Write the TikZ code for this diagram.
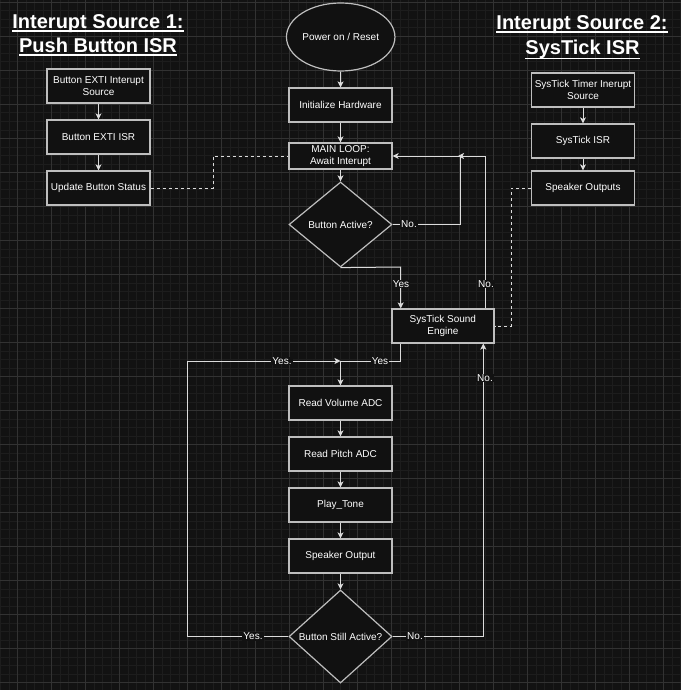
\documentclass[tikz,border=0pt]{standalone}
\usepackage{fontspec}
\setmainfont{Liberation Sans}
\usetikzlibrary{shapes.geometric,arrows.meta}
\definecolor{bg}{RGB}{18,18,18}
\definecolor{gminor}{RGB}{29,29,29}
\definecolor{gmajor}{RGB}{50,50,50}
\definecolor{boxfill}{RGB}{17,17,17}
\definecolor{boxline}{RGB}{190,190,190}
\definecolor{edgec}{RGB}{220,220,220}
\begin{document}
\begin{tikzpicture}[x=1pt,y=-1pt,
  txt/.style={text=white,font=\fontsize{10}{12.5}\selectfont},
  box/.style={txt,draw=boxline,line width=1.2pt,fill=boxfill,minimum width=103pt,minimum height=34pt,inner sep=1pt,align=center},
  dec/.style={txt,diamond,draw=boxline,line width=1.2pt,fill=boxfill,inner sep=0pt,minimum width=103pt},
  term/.style={txt,ellipse,draw=boxline,line width=1.2pt,fill=boxfill,inner sep=0pt,minimum width=102pt,minimum height=68pt},
  title/.style={text=white,font=\bfseries\fontsize{20}{22}\selectfont,inner sep=0pt,anchor=base},
  uline/.style={draw=white,line width=1.3pt},
  flow/.style={draw=edgec,line width=1pt,-{Stealth[length=6pt,width=6pt,inset=1.5pt]}},
  dashlink/.style={draw=edgec,line width=1pt,dash pattern=on 3pt off 3pt},
  lbl/.style={txt,fill=bg,inner sep=1pt}]
\useasboundingbox (0,0) rectangle (681,690);
\fill[bg] (0,0) rectangle (681,690);
\foreach \i in {0,...,80} {\draw[gminor,line width=0.6pt] (0.3+\i*8.5,0) -- (0.3+\i*8.5,690);}
\foreach \i in {0,...,81} {\draw[gminor,line width=0.6pt] (0,2.3+\i*8.5) -- (681,2.3+\i*8.5);}
\foreach \i in {0,...,19} {\draw[gmajor,line width=0.8pt] (17.3+\i*34,0) -- (17.3+\i*34,690);}
\foreach \i in {0,...,20} {\draw[gmajor,line width=0.8pt] (0,2.3+\i*34) -- (681,2.3+\i*34);}

% titles
\node[title] (t1a) at (98,28.5) {Interupt Source 1:};
\node[title] (t1b) at (98,52.5) {Push Button ISR};
\node[title] (t2a) at (582,29.5) {Interupt Source 2:};
\node[title] (t2b) at (582.5,54.3) {SysTick ISR};
\draw[uline] ([yshift=-2.5pt]t1a.base west) -- ([yshift=-2.5pt]t1a.base east);
\draw[uline] ([yshift=-2.5pt]t1b.base west) -- ([yshift=-2.5pt]t1b.base east);
\draw[uline] ([yshift=-2.5pt]t2a.base west) -- ([yshift=-2.5pt]t2a.base east);
\draw[uline] ([yshift=-4pt]t2b.base west) -- ([yshift=-4pt]t2b.base east);

% left column
\node[box] (b1) at (98.5,86) {Button EXTI Interupt\\Source};
\node[box] (b2) at (98.5,137) {Button EXTI ISR};
\node[box] (b3) at (98.5,188) {Update Button Status};

% right column
\node[box] (s1) at (583,90) {SysTick Timer Inerupt\\Source};
\node[box] (s2) at (583,141) {SysTick ISR};
\node[box] (s3) at (583,188) {Speaker Outputs};

% main column
\node[term] (pwr) at (340.7,37) {Power on / Reset};
\node[box] (init) at (340.5,105) {Initialize Hardware};
\node[box,minimum height=26pt] (main) at (340.5,156) {MAIN LOOP:\\Await Interupt};
\node[dec,minimum height=85pt] (dia1) at (340.5,224.5) {\makebox[0pt]{Button Active?}};
\node[box,minimum width=102pt] (sse) at (442.9,326) {SysTick Sound\\Engine};
\node[box] (rv) at (340.5,403) {Read Volume ADC};
\node[box] (rp) at (340.5,454) {Read Pitch ADC};
\node[box] (pt) at (340.5,505) {Play\_Tone};
\node[box] (so) at (340.5,556) {Speaker Output};
\node[dec,minimum height=93pt] (dia2) at (340.5,636.5) {\makebox[0pt]{Button Still Active?}};

% coordinates
\coordinate (j1) at (458,156);
\coordinate (j2) at (460,224.5);
\coordinate (j3) at (460,156);
\coordinate (n1) at (485.5,156);
\coordinate (c1) at (400.7,267);
\coordinate (y2) at (400.7,361);
\coordinate (m1) at (340.5,361);
\coordinate (y3) at (187,636.5);
\coordinate (y4) at (187,361);
\coordinate (n2) at (483.3,636.5);
\coordinate (d1) at (213,188);
\coordinate (d2) at (213,156);
\coordinate (d3) at (511,188);
\coordinate (d4) at (511,326);

% connectors
\draw[flow] (b1) -- (b2);
\draw[flow] (b2) -- (b3);
\draw[flow] (s1) -- (s2);
\draw[flow] (s2) -- (s3);
\draw[flow] (pwr) -- (init);
\draw[flow] (init) -- (main);
\draw[flow] (main) -- (dia1);
\draw[flow] (rv) -- (rp);
\draw[flow] (rp) -- (pt);
\draw[flow] (pt) -- (so);
\draw[flow] (so) -- (dia2);
\draw[flow] (dia1.east) -- (j2) -- (j3) -- (main.east);
\draw[flow] (n1 |- sse.north) -- (n1) -- (j1);
\draw[flow] (dia1.south) -- (c1) -- (c1 |- sse.north);
\draw[flow] (y2 |- sse.south) -- (y2) -- (m1) -- (rv.north);
\draw[flow] (dia2.west) -- (y3) -- (y4) -- (m1);
\draw[flow] (dia2.east) -- (n2) -- (n2 |- sse.south);
\draw[dashlink] (b3.east) -- (d1) -- (d2) -- (main.west);
\draw[dashlink] (s3.west) -- (d3) -- (d4) -- (sse.east);

% labels
\node[lbl] (l1) at (409,224.5) {No.};
\node[lbl] (l2) at (486,284) {No.};
\node[lbl] (l3) at (401,284) {Yes};
\node[lbl] (l4) at (380,361) {Yes};
\node[lbl] (l5) at (282,361) {Yes.};
\node[lbl] (l6) at (253,636.5) {Yes.};
\node[lbl] (l7) at (415,636.5) {No.};
\node[lbl] (l8) at (485,378) {No.};
\end{tikzpicture}
\end{document}
